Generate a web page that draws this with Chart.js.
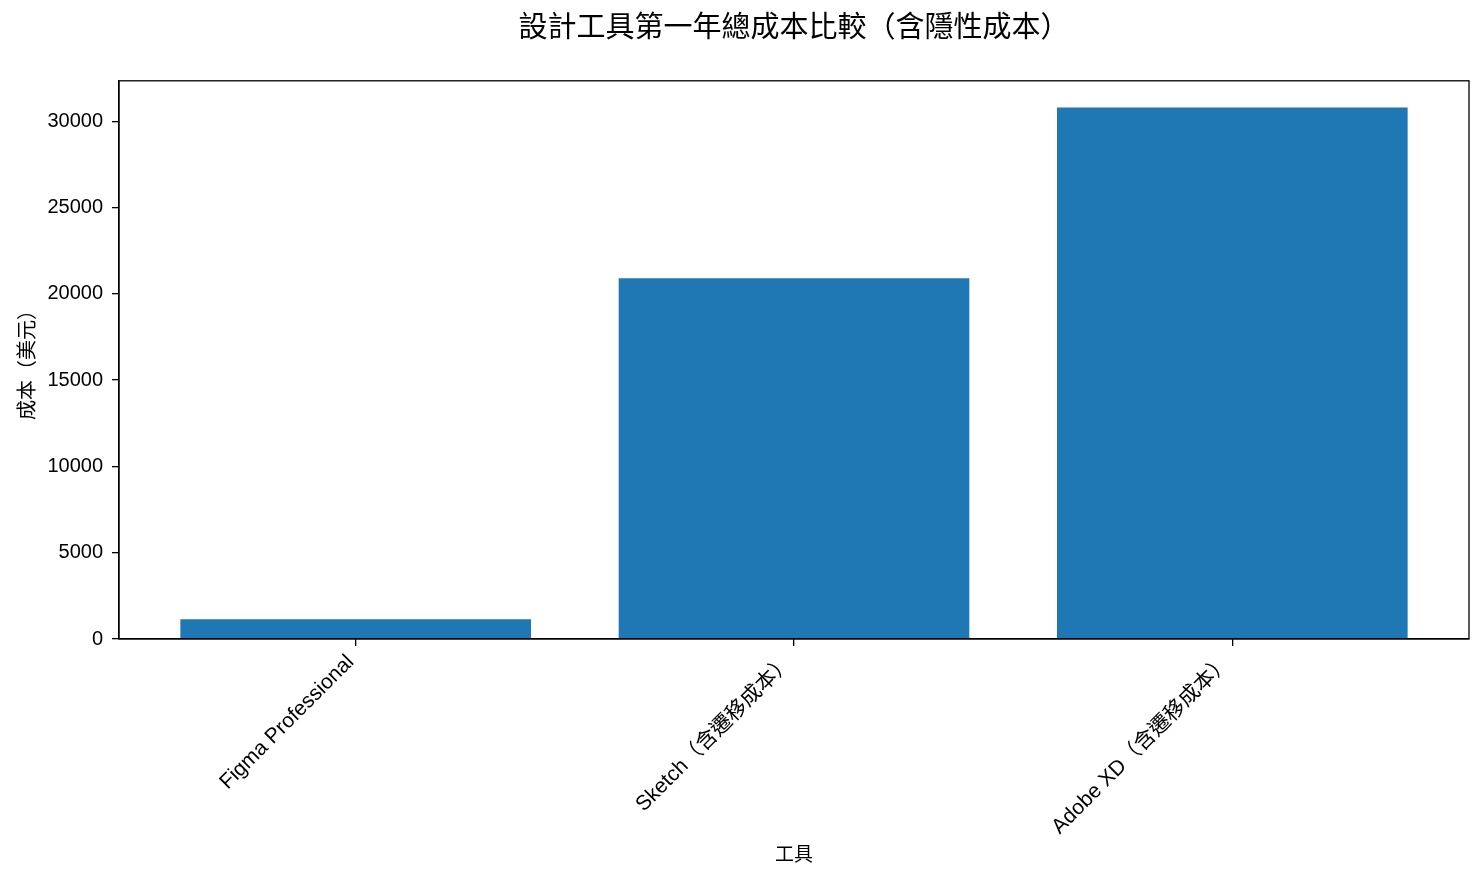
<!DOCTYPE html>
<html lang="zh-Hant">
<head>
  <meta charset="UTF-8">
  <title>設計工具第一年總成本比較</title>
  <script src="https://cdn.jsdelivr.net/npm/chart.js"></script>
  <style>
    body { margin: 0; padding: 0; background: #fff; }
    #wrap { width: 1484px; height: 883px; }
  </style>
</head>
<body>
  <div id="wrap">
    <canvas id="costChart" width="1484" height="883"></canvas>
  </div>

  <script>
    // data
    const tools = ['Figma Professional', 'Sketch（含遷移成本）', 'Adobe XD（含遷移成本）'];
    const costs = [1140, 20900, 30800];
    const yTicks = [0, 5000, 10000, 15000, 20000, 25000, 30000];

    const FONT = "'Liberation Sans', 'Noto Sans CJK TC', sans-serif";
    Chart.defaults.font.family = FONT;
    Chart.defaults.color = '#000';

    // closes the box round the plot (top and right spines)
    const frame = {
      id: 'frame',
      afterDatasetsDraw(chart) {
        const { ctx, chartArea: a } = chart;
        ctx.save();
        ctx.strokeStyle = '#000';
        ctx.lineWidth = 1.3;
        ctx.strokeRect(a.left, a.top, a.right - a.left, a.bottom - a.top);
        ctx.restore();
      }
    };

    const ctx = document.getElementById('costChart').getContext('2d');
    new Chart(ctx, {
      type: 'bar',
      data: {
        datasets: [{
          data: costs.map((v, i) => ({ x: i, y: v })),
          backgroundColor: '#1f77b4',
          borderWidth: 0,
          barPercentage: 0.8,
          categoryPercentage: 1
        }]
      },
      options: {
        responsive: false,
        animation: false,
        devicePixelRatio: 1,
        layout: { padding: { left: 16, right: 15, top: 0, bottom: 16 } },
        plugins: {
          legend: { display: false },
          tooltip: { enabled: false },
          title: {
            display: true,
            fullSize: false,
            text: '設計工具第一年總成本比較（含隱性成本）',
            font: { size: 29, weight: 'normal' },
            padding: { top: 12, bottom: 34 }
          }
        },
        scales: {
          x: {
            type: 'linear',
            min: -0.54,
            max: 2.54,
            offset: false,
            afterBuildTicks: s => { s.ticks = tools.map((_, i) => ({ value: i })); },
            afterFit: s => { s.height = 228; },
            ticks: {
              autoSkip: false,
              minRotation: 45,
              maxRotation: 45,
              padding: 4,
              labelOffset: -5,
              font: { size: 21 },
              callback: v => tools[v]
            },
            grid: { offset: false, drawOnChartArea: false, drawTicks: true, tickLength: 7, color: '#000', lineWidth: 1.3 },
            border: { display: true, color: '#000', width: 1.3 },
            title: { display: true, text: '工具', font: { size: 19 }, padding: 0 }
          },
          y: {
            min: 0,
            max: 32340,
            afterBuildTicks: s => { s.ticks = yTicks.map(v => ({ value: v })); },
            afterFit: s => { s.width = 103; },
            ticks: {
              padding: 9,
              font: { size: 20 },
              callback: v => String(v)
            },
            grid: { drawOnChartArea: false, drawTicks: true, tickLength: 7, color: '#000', lineWidth: 1.3 },
            border: { display: true, color: '#000', width: 1.3 },
            title: { display: true, text: '成本（美元）', font: { size: 20 }, padding: 0 }
          }
        }
      },
      plugins: [frame]
    });
  </script>
</body>
</html>
